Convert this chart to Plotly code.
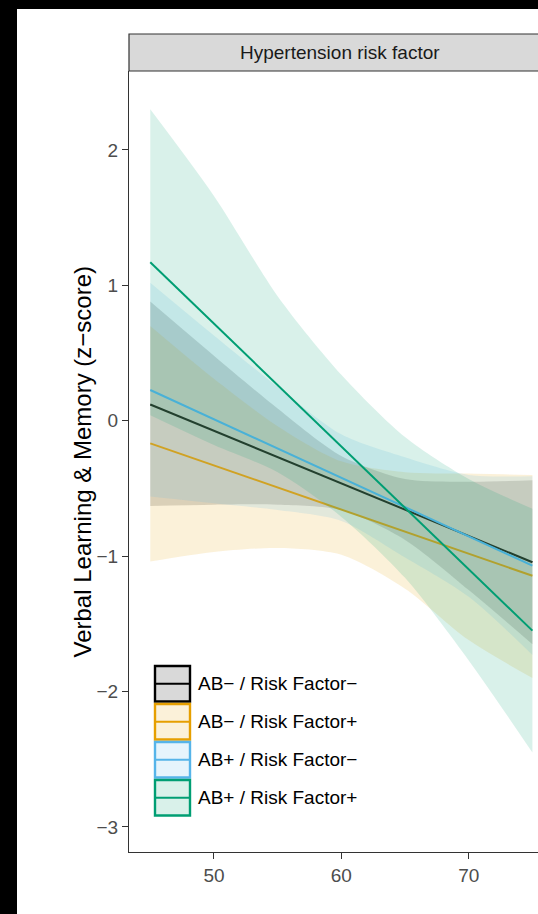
import plotly.graph_objects as go

# ---------------- data ----------------
ages = [45, 50, 55, 60, 65, 70, 75]          # ribbon sample ages
line_ages = [45, 75]                          # fitted line end points

groups = ["AB− / Risk Factor−", "AB− / Risk Factor+",
          "AB+ / Risk Factor−", "AB+ / Risk Factor+"]

fit_abneg_rfneg = [0.12, -1.045]
fit_abneg_rfpos = [-0.167, -1.145]
fit_abpos_rfneg = [0.227, -1.07]
fit_abpos_rfpos = [1.17, -1.55]

upper_abneg_rfneg = [0.88, 0.48, 0.09, -0.26, -0.43, -0.45, -0.44]
lower_abneg_rfneg = [-0.63, -0.62, -0.62, -0.66, -0.88, -1.25, -1.65]

upper_abneg_rfpos = [0.70, 0.31, -0.04, -0.30, -0.38, -0.39, -0.40]
lower_abneg_rfpos = [-1.04, -0.97, -0.94, -0.99, -1.24, -1.62, -1.90]

upper_abpos_rfneg = [1.02, 0.63, 0.25, -0.10, -0.27, -0.40, -0.41]
lower_abpos_rfneg = [-0.56, -0.61, -0.66, -0.74, -1.01, -1.30, -1.73]

upper_abpos_rfpos = [2.30, 1.66, 0.92, 0.34, -0.12, -0.43, -0.65]
lower_abpos_rfpos = [0.04, -0.18, -0.38, -0.71, -1.16, -1.77, -2.45]

x_ticks = [50, 60, 70]
y_ticks = [-3, -2, -1, 0, 1, 2]

panel_title = "Hypertension risk factor"
y_title = "Verbal Learning & Memory (z−score)"

line_colors = ["#000000", "#E69F00", "#56B4E9", "#009E73"]
fill_colors = ["rgba(0,0,0,0.15)", "rgba(230,159,0,0.15)",
               "rgba(86,180,233,0.15)", "rgba(0,158,115,0.15)"]

fits = [fit_abneg_rfneg, fit_abneg_rfpos, fit_abpos_rfneg, fit_abpos_rfpos]
uppers = [upper_abneg_rfneg, upper_abneg_rfpos, upper_abpos_rfneg, upper_abpos_rfpos]
lowers = [lower_abneg_rfneg, lower_abneg_rfpos, lower_abpos_rfneg, lower_abpos_rfpos]

# ---------------- layout geometry (pixels) ----------------
W, H = 538, 914
L, R, T, B = 129, 538, 71, 852
PW, PH = R - L, B - T
FONT = "Liberation Sans, Arial, sans-serif"


def px_x(p):
    return (p - L) / PW


def px_y(p):
    return (B - p) / PH


fig = go.Figure()

for i in range(4):
    fig.add_trace(go.Scatter(x=ages, y=lowers[i], mode="lines",
                             line=dict(width=0, shape="spline", smoothing=0.8),
                             hoverinfo="skip", showlegend=False))
    fig.add_trace(go.Scatter(x=ages, y=uppers[i], mode="lines",
                             line=dict(width=0, shape="spline", smoothing=0.8),
                             fill="tonexty", fillcolor=fill_colors[i],
                             hoverinfo="skip", showlegend=False))
    fig.add_trace(go.Scatter(x=line_ages, y=fits[i], mode="lines",
                             line=dict(color=line_colors[i], width=2),
                             name=groups[i], showlegend=False))

shapes = []
# white page area (black frame on top/left like the reference)
shapes.append(dict(type="rect", xref="paper", yref="paper", layer="below",
                   x0=px_x(17), x1=px_x(560), y0=px_y(930), y1=px_y(9),
                   fillcolor="white", line=dict(width=0)))
# facet strip
shapes.append(dict(type="rect", xref="paper", yref="paper",
                   x0=0, x1=px_x(600), y0=1, y1=px_y(34),
                   fillcolor="#D9D9D9", line=dict(color="#333333", width=1.2)))

annotations = [
    dict(text=panel_title, xref="paper", yref="paper",
         x=px_x(339.5), y=px_y(52.5), showarrow=False,
         xanchor="center", yanchor="middle",
         font=dict(family=FONT, size=19, color="#1A1A1A")),
    dict(text=y_title, xref="paper", yref="paper",
         x=px_x(82), y=0.5, showarrow=False, textangle=-90,
         xanchor="center", yanchor="middle",
         font=dict(family=FONT, size=24, color="#000000")),
]

# legend (drawn manually inside the panel)
key_x0, key_x1 = 155, 190
key_tops = [666, 704, 742, 780]
key_h = 35.5
for i in range(4):
    t = key_tops[i]
    shapes.append(dict(type="rect", xref="paper", yref="paper",
                       x0=px_x(key_x0), x1=px_x(key_x1),
                       y0=px_y(t + key_h), y1=px_y(t),
                       fillcolor=fill_colors[i],
                       line=dict(color=line_colors[i], width=2.4)))
    shapes.append(dict(type="line", xref="paper", yref="paper",
                       x0=px_x(key_x0 + 1), x1=px_x(key_x1 - 1),
                       y0=px_y(t + key_h / 2), y1=px_y(t + key_h / 2),
                       line=dict(color=line_colors[i], width=2)))
    annotations.append(dict(text=groups[i], xref="paper", yref="paper",
                            x=px_x(196), y=px_y(t + key_h / 2),
                            showarrow=False, xanchor="left", yanchor="middle",
                            font=dict(family=FONT, size=19, color="#000000")))

axis_common = dict(showgrid=False, zeroline=False, showline=True,
                   linecolor="#333333", linewidth=1.2,
                   ticks="outside", ticklen=6, tickwidth=1.2, tickcolor="#333333",
                   tickfont=dict(family=FONT, size=19, color="#4D4D4D"))

fig.update_layout(
    width=W, height=H,
    margin=dict(l=L, r=W - R, t=T, b=H - B, pad=0),
    paper_bgcolor="black", plot_bgcolor="white",
    showlegend=False,
    xaxis=dict(range=[43.33, 75.44], tickvals=x_ticks, **axis_common),
    yaxis=dict(range=[-3.185, 2.583], tickvals=y_ticks, **axis_common),
    shapes=shapes, annotations=annotations,
    font=dict(family=FONT),
)

fig.write_html("out.html")
